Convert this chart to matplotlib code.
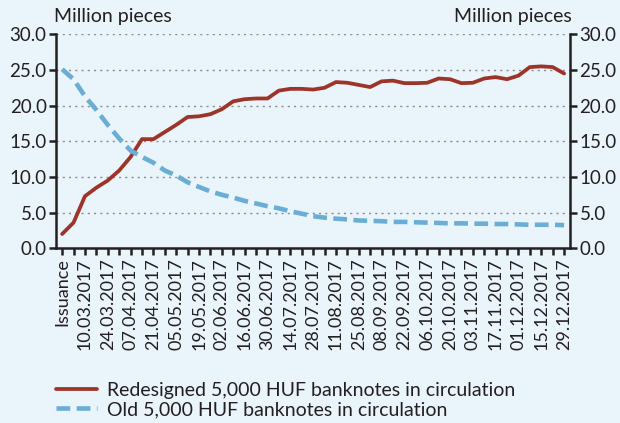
import matplotlib
matplotlib.use("Agg")
import matplotlib.pyplot as plt
from matplotlib.ticker import FixedLocator

# weekly data, from issuance (01.03.2017) to 29.12.2017
dates = ["Issuance", "03.03.2017"]
for m, days in [("03", [10, 17, 24, 31]), ("04", [7, 14, 21, 28]), ("05", [5, 12, 19, 26]),
                ("06", [2, 9, 16, 23, 30]), ("07", [7, 14, 21, 28]), ("08", [4, 11, 18, 25]),
                ("09", [1, 8, 15, 22, 29]), ("10", [6, 13, 20, 27]), ("11", [3, 10, 17, 24]),
                ("12", [1, 8, 15, 22, 29])]:
    for d in days:
        dates.append(f"{d:02d}.{m}.2017")

redesigned = [2.0, 3.6, 7.3, 8.5, 9.5, 10.9, 12.8, 15.3, 15.3, 16.3,
              17.3, 18.4, 18.5, 18.8, 19.5, 20.6, 20.9, 21.0, 21.0, 22.1,
              22.35, 22.35, 22.25, 22.5, 23.3, 23.2, 22.9, 22.6, 23.4, 23.5,
              23.15, 23.15, 23.2, 23.8, 23.7, 23.15, 23.2, 23.8, 24.0, 23.7,
              24.2, 25.4, 25.5, 25.4, 24.5]
old = [25.1, 23.7, 21.3, 19.4, 17.3, 15.4, 13.7, 12.8, 12.0, 10.9,
       10.2, 9.25, 8.6, 7.97, 7.5, 7.1, 6.65, 6.28, 5.9, 5.6,
       5.2, 4.85, 4.5, 4.3, 4.15, 4.05, 3.9, 3.85, 3.8, 3.7,
       3.7, 3.65, 3.6, 3.55, 3.5, 3.5, 3.45, 3.45, 3.4, 3.4,
       3.35, 3.3, 3.3, 3.3, 3.25]

yticks = [0, 5, 10, 15, 20, 25, 30]

bg = "#EAF4FB"
txt = "#231F20"
red = "#9E3328"
blue = "#6AADD5"

plt.rcParams['font.family'] = ['Lato', 'DejaVu Sans']
plt.rcParams['font.size'] = 13

fig = plt.figure(figsize=(6.2, 4.23), dpi=100, facecolor=bg)
ax = fig.add_axes([0.091, 0.413, 0.828, 0.506])
ax.set_facecolor(bg)

x = list(range(len(dates)))
l1, = ax.plot(x, redesigned, color=red, lw=2.7, solid_capstyle='round',
              label="Redesigned 5,000 HUF banknotes in circulation")
l2, = ax.plot(x, old, color=blue, lw=3.3, dashes=(3, 1.4),
              label="Old 5,000 HUF banknotes in circulation")

ax.set_xlim(-0.5, len(dates) - 0.5)
ax.set_ylim(0, 30)
ax.set_yticks(yticks)
ax.set_yticklabels([f"{v:.1f}" for v in yticks])
ax.yaxis.grid(True, color="#8C8C8C", linestyle=(0, (1.5, 3)), lw=1)
ax.set_axisbelow(True)

ax.set_xticks(x[::2])
ax.set_xticklabels(dates[::2], rotation=90)
ax.xaxis.set_minor_locator(FixedLocator(x[1::2]))

ax.spines["top"].set_visible(False)
for s in ["left", "right", "bottom"]:
    ax.spines[s].set_color(txt)
    ax.spines[s].set_linewidth(1.8)

ax.tick_params(axis='both', which='both', colors=txt, labelcolor=txt)
ax.tick_params(axis='x', which='both', length=5, width=1.8, pad=2)
ax.tick_params(axis='y', length=5, width=1.8, pad=2, labelsize=13.5,
               right=True, labelright=True)

fig.text(0.087, 0.948, "Million pieces", color=txt, fontsize=14, ha='left', va='baseline')
fig.text(0.922, 0.948, "Million pieces", color=txt, fontsize=14, ha='right', va='baseline')

fig.legend(handles=[l1, l2], loc='lower left', bbox_to_anchor=(0.062, -0.03),
           frameon=False, handlelength=2.1, labelspacing=0.12, handletextpad=0.55,
           fontsize=14, labelcolor=txt)

fig.savefig("out.png", dpi=100, facecolor=bg)
